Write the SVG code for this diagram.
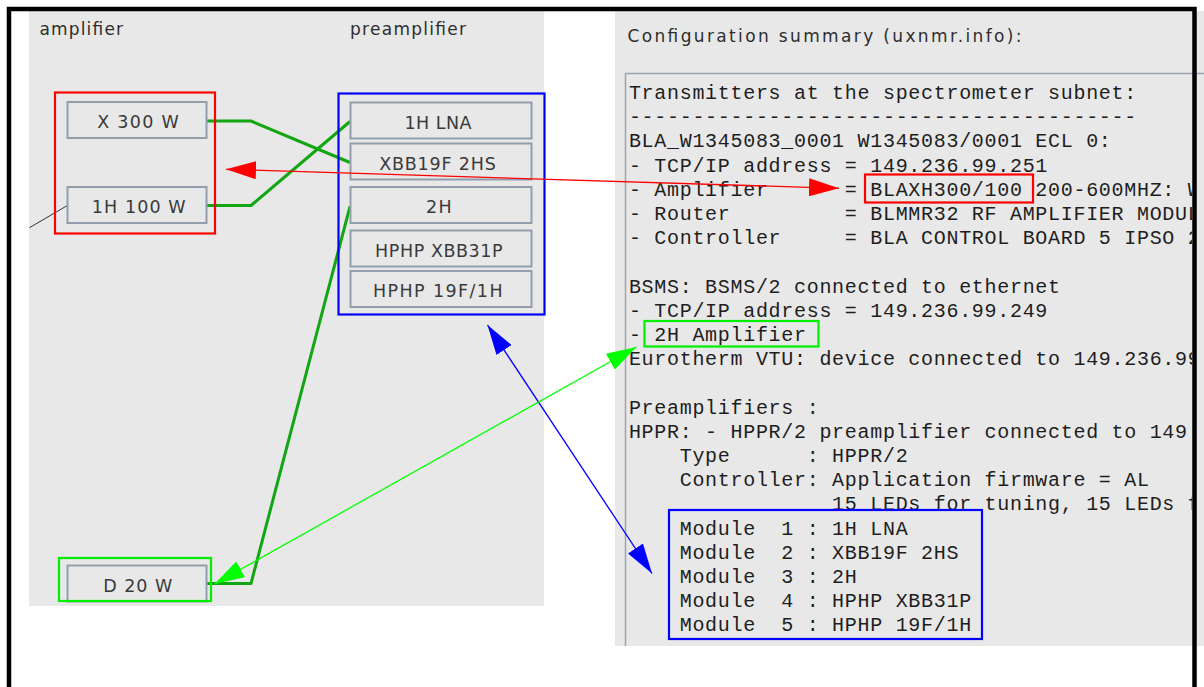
<svg xmlns="http://www.w3.org/2000/svg" width="1204" height="687" viewBox="0 0 1204 687">
<style>
.panel{fill:#e8e8e8}
.node rect{fill:#e8e8e8;stroke:#929eac;stroke-width:2}
.node text{font-family:"DejaVu Sans",sans-serif;font-size:17.5px;fill:#3a3a3a;text-anchor:middle}
.hdr{font-family:"DejaVu Sans",sans-serif;font-size:17px;fill:#2e2e2e}
.mono{font-family:"Liberation Mono",monospace;font-size:20px;letter-spacing:0.7px;fill:#1e1e1e;white-space:pre}
.wire{fill:none;stroke:#12a612;stroke-width:3;stroke-linejoin:round}
.hl{fill:none;stroke-width:2.2}
</style>
<defs>
<marker id="ahR" viewBox="0 0 30 18" refX="30" refY="9" markerWidth="30" markerHeight="18" markerUnits="userSpaceOnUse" orient="auto-start-reverse"><path d="M0,0 L30,9 L0,18 z" fill="#ff0000"/></marker>
<marker id="ahB" viewBox="0 0 30 18" refX="30" refY="9" markerWidth="30" markerHeight="18" markerUnits="userSpaceOnUse" orient="auto-start-reverse"><path d="M0,0 L30,9 L0,18 z" fill="#0000ff"/></marker>
<marker id="ahG" viewBox="0 0 30 18" refX="30" refY="9" markerWidth="30" markerHeight="18" markerUnits="userSpaceOnUse" orient="auto-start-reverse"><path d="M0,0 L30,9 L0,18 z" fill="#00ff00"/></marker>
<clipPath id="clipText"><rect x="600" y="60" width="592" height="600"/></clipPath>
</defs>
<rect width="1204" height="687" fill="#ffffff"/>
<g id="left-panel">
<rect class="panel" x="29" y="11" width="515" height="595"/>
<text class="hdr" x="39.5" y="35" textLength="83.5" lengthAdjust="spacing">amplifier</text>
<text class="hdr" x="350" y="35" textLength="116" lengthAdjust="spacing">preamplifier</text>
</g>
<g id="right-panel">
<rect class="panel" x="615" y="11" width="589" height="635"/>
<text class="hdr" x="627.5" y="42" textLength="394" lengthAdjust="spacing">Configuration summary (uxnmr.info):</text>
<path d="M625.5,646 V73.5 H1204" fill="none" stroke="#9aa4b0" stroke-width="1.5"/>
<g clip-path="url(#clipText)" xml:space="preserve">
<text class="mono" x="628.9" y="99">Transmitters at the spectrometer subnet:</text>
<text class="mono" x="628.9" y="123.2">----------------------------------------</text>
<text class="mono" x="628.9" y="147.4">BLA_W1345083_0001 W1345083/0001 ECL 0:</text>
<text class="mono" x="628.9" y="171.6">- TCP/IP address = 149.236.99.251</text>
<text class="mono" x="628.9" y="195.8">- Amplifier      = BLAXH300/100 200-600MHZ: W</text>
<text class="mono" x="628.9" y="220">- Router         = BLMMR32 RF AMPLIFIER MODUL</text>
<text class="mono" x="628.9" y="244.2">- Controller     = BLA CONTROL BOARD 5 IPSO 2</text>
<text class="mono" x="628.9" y="292.6">BSMS: BSMS/2 connected to ethernet</text>
<text class="mono" x="628.9" y="316.8">- TCP/IP address = 149.236.99.249</text>
<text class="mono" x="628.9" y="341">- 2H Amplifier</text>
<text class="mono" x="628.9" y="365.2">Eurotherm VTU: device connected to 149.236.99</text>
<text class="mono" x="628.9" y="413.6">Preamplifiers :</text>
<text class="mono" x="628.9" y="437.8">HPPR: - HPPR/2 preamplifier connected to 149.</text>
<text class="mono" x="628.9" y="462">    Type      : HPPR/2</text>
<text class="mono" x="628.9" y="486.2">    Controller: Application firmware = AL</text>
<text class="mono" x="628.9" y="510.4">                15 LEDs for tuning, 15 LEDs f</text>
<text class="mono" x="628.9" y="534.6">    Module  1 : 1H LNA</text>
<text class="mono" x="628.9" y="558.8">    Module  2 : XBB19F 2HS</text>
<text class="mono" x="628.9" y="583">    Module  3 : 2H</text>
<text class="mono" x="628.9" y="607.2">    Module  4 : HPHP XBB31P</text>
<text class="mono" x="628.9" y="631.4">    Module  5 : HPHP 19F/1H</text>
</g>
</g>
<g id="connectors">
<polyline class="wire" points="207,121 251,121 350,162.5"/>
<polyline class="wire" points="207,205.5 251,205.5 350,121.5"/>
<polyline class="wire" points="350,206.5 251,583.5 207,583.5"/>
<line x1="67" y1="205.7" x2="29.5" y2="227.7" stroke="#333" stroke-width="1"/>
</g>
<g id="node-x300w" class="node"><rect x="67.5" y="102" width="139" height="36"/><text x="138" y="128.3" textLength="81.6" lengthAdjust="spacing">X 300 W</text></g>
<g id="node-1h100w" class="node"><rect x="67.5" y="187" width="139" height="36"/><text x="138.7" y="213.3" textLength="93.8" lengthAdjust="spacing">1H 100 W</text></g>
<g id="node-d20w" class="node"><rect x="67.5" y="565.5" width="139" height="36"/><text x="137.7" y="591.5" textLength="69" lengthAdjust="spacing">D 20 W</text></g>
<g id="node-1hlna" class="node"><rect x="350.5" y="102.5" width="181" height="36"/><text x="438" y="128.8" textLength="67" lengthAdjust="spacing">1H LNA</text></g>
<g id="node-xbb19f" class="node"><rect x="350.5" y="143.5" width="181" height="36"/><text x="437.5" y="169.8" textLength="116.7" lengthAdjust="spacing">XBB19F 2HS</text></g>
<g id="node-2h" class="node"><rect x="350.5" y="187" width="181" height="36"/><text x="438.8" y="213.3" textLength="25.6" lengthAdjust="spacing">2H</text></g>
<g id="node-hphpxbb31p" class="node"><rect x="350.5" y="230.5" width="181" height="36"/><text x="438.8" y="256.8" textLength="127.5" lengthAdjust="spacing">HPHP XBB31P</text></g>
<g id="node-hphp19f1h" class="node"><rect x="350.5" y="271" width="181" height="36"/><text x="437.8" y="297.3" textLength="129.5" lengthAdjust="spacing">HPHP 19F/1H</text></g>
<g id="highlights">
<rect id="hl-amplifier" class="hl" stroke="#ff0000" x="55" y="92.5" width="160" height="141"/>
<rect id="hl-preamplifier" class="hl" stroke="#0000ff" x="338.5" y="93.5" width="206" height="221" stroke-width="2.5"/>
<rect id="hl-d20w" class="hl" stroke="#00ee00" x="59" y="558" width="152" height="43"/>
<rect id="hl-blaxh" class="hl" stroke="#ff0000" x="865" y="174.5" width="168" height="28"/>
<rect id="hl-2hamp" class="hl" stroke="#00ee00" x="644.5" y="321" width="174" height="25.5"/>
<rect id="hl-modules" class="hl" stroke="#0000ff" x="669" y="510" width="313" height="129"/>
</g>
<g id="arrows">
<line x1="226" y1="169.3" x2="839" y2="188.3" stroke="#ff0000" stroke-width="1.3" marker-start="url(#ahR)" marker-end="url(#ahR)"/>
<line x1="487.5" y1="325" x2="652" y2="573.5" stroke="#0000ff" stroke-width="1.3" marker-start="url(#ahB)" marker-end="url(#ahB)"/>
<line x1="636.5" y1="347" x2="214.5" y2="584" stroke="#00ff00" stroke-width="1.3" marker-start="url(#ahG)" marker-end="url(#ahG)"/>
</g>
<path id="frame" d="M9,687 V9 H1194.5 V687" fill="none" stroke="#000" stroke-width="4.5"/>
</svg>
